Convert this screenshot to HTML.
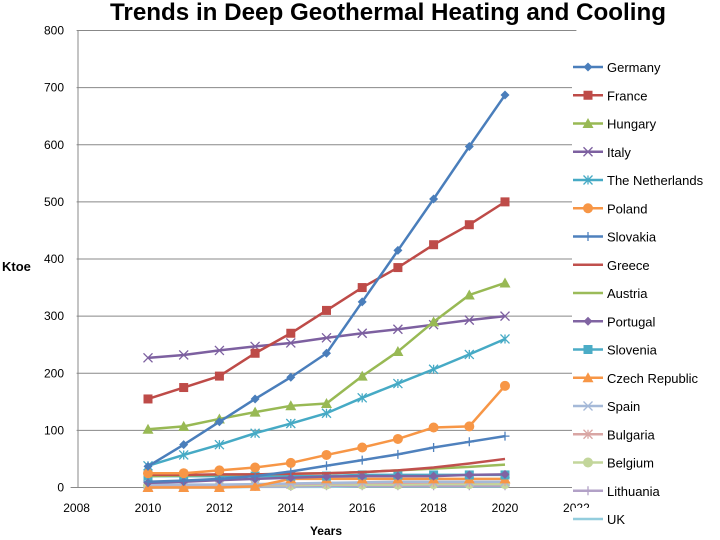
<!DOCTYPE html>
<html><head><meta charset="utf-8"><style>
html,body{margin:0;padding:0;background:#fff;}
svg{display:block;font-family:"Liberation Sans",sans-serif;}
</style></head><body>
<svg id="chart" width="720" height="540">
<text x="388" y="20" text-anchor="middle" font-size="24" font-weight="bold" fill="#000" textLength="556" lengthAdjust="spacingAndGlyphs">Trends in Deep Geothermal Heating and Cooling</text>
<g id="grid"></g><g id="axes"></g><g id="series"></g><g id="legend"></g>
<text x="2" y="271" font-size="13" font-weight="bold">Ktoe</text>
<text x="326" y="535" text-anchor="middle" font-size="12" font-weight="bold">Years</text>
</svg>
<script>
const years=[2010,2011,2012,2013,2014,2015,2016,2017,2018,2019,2020];
const xTicks=[2008,2010,2012,2014,2016,2018,2020,2022];
const yTicks=[0,100,200,300,400,500,600,700,800];
const names=["Germany","France","Hungary","Italy","The Netherlands","Poland","Slovakia","Greece","Austria","Portugal","Slovenia","Czech Republic","Spain","Bulgaria","Belgium","Lithuania","UK"];
const germany=[37,75,115,155,193,235,325,415,505,597,687];
const france=[155,175,195,235,270,310,350,385,425,460,500];
const hungary=[102,107,120,132,143,147,195,238,290,337,358];
const italy=[227,232,240,247,253,262,270,277,285,293,300];
const netherlands=[38,57,75,95,112,130,157,182,207,233,260];
const poland=[25,25,30,35,43,57,70,85,105,107,178];
const slovakia=[10,12,15,20,28,38,48,58,70,80,90];
const greece=[22,22,23,23,24,25,27,30,35,42,50];
const austria=[20,21,22,23,24,25,27,30,33,36,40];
const portugal=[8,10,13,15,17,19,20,20,20,22,23];
const slovenia=[20,20,20,20,20,20,22,22,22,22,22];
const czech=[0,0,0,2,15,15,15,15,15,15,15];
const spain=[5,5,5,6,7,8,9,10,10,10,10];
const bulgaria=[2,3,4,5,6,7,8,8,9,9,10];
const belgium=[3,3,3,4,4,5,5,5,6,6,6];
const lithuania=[0,1,1,2,2,3,3,3,3,3,3];
const uk=[0,0,0,1,1,1,2,2,2,2,2];
const seriesData=[germany,france,hungary,italy,netherlands,poland,slovakia,greece,austria,portugal,slovenia,czech,spain,bulgaria,belgium,lithuania,uk];
const colors=["#4a7ebb","#be4b48","#98b954","#7d60a0","#46aac5","#f79646","#4f81bd","#c0504d","#9bbb59","#8064a2","#4bacc6","#f79646","#a5b9d8","#d9a6a4","#c3d69b","#b2a1c7","#93cddd"];
const markers=["diamond","square","triangle","x","star","circle","plus","none","none","diamond","square","triangle","x","star","circle","plus","none"];
const NS="http://www.w3.org/2000/svg";
const X0=76.6,X1=576.4,Y0=487.5,Y1=30.5;
const xs=v=>X0+(v-2008)/(2022-2008)*(X1-X0);
const ys=v=>Y0-(v/800)*(Y0-Y1);
function mk(tag,attrs,parent){const e=document.createElementNS(NS,tag);for(const k in attrs)e.setAttribute(k,attrs[k]);parent.appendChild(e);return e;}
const grid=document.getElementById('grid'),axes=document.getElementById('axes'),ser=document.getElementById('series'),leg=document.getElementById('legend');
yTicks.forEach(t=>{
 if(t>0){const g=mk('line',{x1:X0,x2:X1,y1:ys(t),y2:ys(t),stroke:'#888','stroke-width':1},grid);
 
 }
 const l=mk('text',{x:64,y:ys(t)+4,'text-anchor':'end','font-size':12},axes);l.textContent=t;
 
 
});
const xa=mk('line',{x1:X0-6,x2:X1,y1:Y0,y2:Y0,stroke:'#888'},axes);


const ya=mk('line',{x1:78,x2:78,y1:Y1,y2:Y0,stroke:'#888'},axes);


xTicks.forEach(t=>{const l=mk('text',{x:xs(t),y:512,'text-anchor':'middle','font-size':12},axes);l.textContent=t;
 
 });
function marker(type,x,y,c,parent){
 const s=4.5;let e=null;
 if(type==='diamond')e=mk('polygon',{points:`${x},${y-s} ${x+s},${y} ${x},${y+s} ${x-s},${y}`,fill:c},parent);
 else if(type==='square')e=mk('rect',{x:x-s,y:y-s,width:2*s,height:2*s,fill:c},parent);
 else if(type==='triangle')e=mk('polygon',{points:`${x},${y-s-1} ${x+s+1},${y+s} ${x-s-1},${y+s}`,fill:c},parent);
 else if(type==='circle')e=mk('circle',{cx:x,cy:y,r:s+0.5,fill:c},parent);
 else if(type==='x')e=mk('path',{d:`M${x-s},${y-s}L${x+s},${y+s}M${x-s},${y+s}L${x+s},${y-s}`,stroke:c,'stroke-width':1.3},parent);
 else if(type==='star')e=mk('path',{d:`M${x-s},${y-s}L${x+s},${y+s}M${x-s},${y+s}L${x+s},${y-s}M${x},${y-s}L${x},${y+s}`,stroke:c,'stroke-width':1.3},parent);
 else if(type==='plus')e=mk('path',{d:`M${x-s},${y}L${x+s},${y}M${x},${y-s}L${x},${y+s}`,stroke:c,'stroke-width':1.3},parent);
 return e;
}
for(let i=seriesData.length-1;i>=0;i--){
 const d=seriesData[i],c=colors[i];
 const g=mk('g',{},ser);
 
 
 const pts=d.map((v,j)=>xs(years[j])+','+ys(v)).join(' ');
 mk('polyline',{points:pts,fill:'none',stroke:c,'stroke-width':2.5},g);
 d.forEach((v,j)=>{const m=marker(markers[i],xs(years[j]),ys(v),c,g);
  if(m){
  }});
}
names.forEach((n,i)=>{
 const y=67+i*28.25;
 const g=mk('g',{},leg);
 
 
 mk('rect',{x:572,y:y-11,width:148,height:21,fill:'#fff'},g);
 mk('line',{x1:573,x2:603,y1:y,y2:y,stroke:colors[i],'stroke-width':2.5},g);
 marker(markers[i],588,y,colors[i],g);
 const t=mk('text',{x:607,y:y+5,'font-size':13},g);t.textContent=n;
});
</script>
</body></html>
